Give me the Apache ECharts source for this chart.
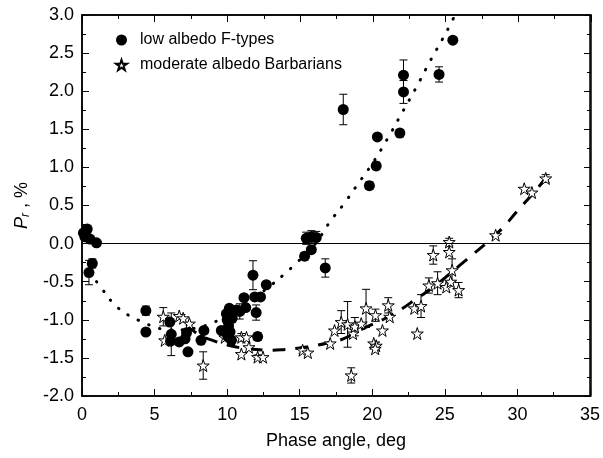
<!DOCTYPE html>
<html>
<head>
<meta charset="utf-8">
<script src="https://cdn.jsdelivr.net/npm/echarts@6/dist/echarts.min.js"></script>
<style>
  html, body { margin: 0; padding: 0; background: #fff; }
  #chart { width: 603px; height: 458px; }
</style>
</head>
<body>
<div id="chart"></div>
<script>
// Polarization vs phase angle: [phase angle (deg), P_r (%), error (0 = none)]
const fTypes = [
  [0.1, 0.14, 0], [0.36, 0.19, 0.05], [0.2, 0.09, 0], [0.55, 0.06, 0], [1.0, 0.01, 0],
  [0.48, -0.38, 0.16], [0.71, -0.26, 0.06],
  [4.4, -0.88, 0.06], [4.4, -1.16, 0],
  [6.05, -1.03, 0], [6.15, -1.19, 0.28], [6.1, -1.28, 0], [6.7, -1.29, 0],
  [7.3, -1.42, 0], [7.1, -1.25, 0], [7.2, -1.17, 0],
  [8.2, -1.27, 0], [8.4, -1.14, 0],
  [9.6, -1.14, 0], [9.95, -0.92, 0], [10.0, -1.0, 0], [10.1, -1.08, 0], [10.2, -1.16, 0],
  [10.05, -1.22, 0], [10.3, -1.27, 0], [10.35, -0.98, 0], [10.15, -0.85, 0],
  [10.64, -0.87, 0], [10.87, -0.89, 0.1], [11.28, -0.84, 0],
  [11.16, -0.71, 0], [11.9, -0.70, 0], [12.3, -0.70, 0],
  [11.78, -0.415, 0.19], [12.7, -0.54, 0],
  [12.0, -0.905, 0.1], [12.1, -1.22, 0.05],
  [15.34, -0.165, 0.05], [15.8, -0.08, 0], [15.45, 0.07, 0.08], [15.8, 0.09, 0.08], [16.14, 0.08, 0.08],
  [16.76, -0.32, 0.12],
  [18.0, 1.76, 0.2],
  [19.8, 0.76, 0.05], [20.27, 1.02, 0.05], [20.35, 1.40, 0],
  [21.9, 1.45, 0.05], [22.15, 1.99, 0.15], [22.15, 2.21, 0.2],
  [24.6, 2.22, 0.1], [25.55, 2.67, 0]
];

const barbarians = [
  [5.6, -0.96, 0.12], [5.7, -1.27, 0], [6.7, -0.95, 0], [6.97, -0.98, 0], [7.4, -1.05, 0],
  [8.35, -1.60, 0.18],
  [9.84, -1.23, 0], [10.98, -1.23, 0.05], [11.33, -1.23, 0], [11.5, -1.36, 0], [10.98, -1.45, 0],
  [12.1, -1.49, 0.03], [12.47, -1.49, 0],
  [15.2, -1.40, 0.04], [15.56, -1.43, 0],
  [17.1, -1.31, 0], [17.4, -1.14, 0], [17.86, -1.03, 0.15], [18.3, -1.06, 0.3],
  [18.67, -1.18, 0], [18.8, -1.09, 0.12], [19.24, -1.05, 0], [19.57, -0.85, 0.25],
  [20.22, -0.94, 0.08], [20.7, -1.14, 0],
  [20.1, -1.31, 0], [20.27, -1.34, 0], [20.2, -1.38, 0],
  [21.1, -0.81, 0.1], [21.2, -0.96, 0],
  [18.55, -1.73, 0.1],
  [22.9, -0.85, 0], [23.1, -1.18, 0],
  [23.36, -0.82, 0.15], [23.9, -0.55, 0.1], [24.5, -0.52, 0.15], [25.1, -0.57, 0],
  [25.4, -0.50, 0], [25.95, -0.61, 0.1], [25.5, -0.35, 0.15],
  [24.2, -0.15, 0.12], [25.3, 0.02, 0.05], [25.3, -0.11, 0],
  [28.5, 0.11, 0],
  [30.47, 0.72, 0], [31.0, 0.67, 0], [31.95, 0.855, 0.05]
];

// Fitted phase curves
const fTypesFit = [
  [1.0, -0.50], [1.4, -0.60], [2.2, -0.79], [3.2, -0.94], [4.2, -1.03], [5.1, -1.10],
  [6.0, -1.13], [7.0, -1.13], [8.0, -1.10], [9.0, -1.04], [10.0, -0.94], [11.0, -0.82],
  [12.0, -0.69], [13.0, -0.55], [13.85, -0.415], [14.8, -0.25], [16.0, -0.02],
  [17.1, 0.29], [18.0, 0.51], [19.0, 0.78], [20.0, 1.05], [21.0, 1.36], [22.0, 1.70],
  [23.0, 2.04], [24.0, 2.40], [25.0, 2.74], [25.6, 2.96]
];

const barbariansFit = [
  [7.2, -1.06], [8.0, -1.19], [9.0, -1.27], [10.0, -1.33], [11.0, -1.37], [12.0, -1.39],
  [13.0, -1.40], [14.0, -1.39], [15.0, -1.37], [16.0, -1.34], [17.0, -1.30], [18.0, -1.25],
  [19.0, -1.15], [20.0, -1.06], [21.0, -0.97], [22.0, -0.86], [23.0, -0.73], [24.0, -0.60],
  [25.0, -0.45], [26.0, -0.29], [27.0, -0.13], [28.0, 0.03], [29.0, 0.21], [30.0, 0.43],
  [31.0, 0.64], [32.0, 0.87]
];

const seriesNames = ['low albedo F-types', 'moderate albedo Barbarians'];
const xRange = [0, 35, 5];
const yRange = [-2, 3, 0.5];

const STAR = 'path://M50,2 L61,36 L97,36 L68,57 L79,92 L50,71 L21,92 L32,57 L3,36 L39,36 Z';
const FONT = 'Liberation Sans, Arial, sans-serif';
const GRID = { left: 82, right: 12, top: 15, bottom: 62 };

function errorBars(data) {
  return data.filter(d => d[2] > 0);
}

function renderErr(params, api) {
  const x = api.value(0), y = api.value(1), e = api.value(2);
  const top = api.coord([x, y + e]);
  const bot = api.coord([x, y - e]);
  const c = 4;
  const style = { stroke: '#000', lineWidth: 1 };
  return {
    type: 'group',
    children: [
      { type: 'line', shape: { x1: top[0], y1: top[1], x2: bot[0], y2: bot[1] }, style },
      { type: 'line', shape: { x1: top[0] - c, y1: top[1], x2: top[0] + c, y2: top[1] }, style },
      { type: 'line', shape: { x1: bot[0] - c, y1: bot[1], x2: bot[0] + c, y2: bot[1] }, style }
    ]
  };
}

function axisCommon() {
  return {
    axisLine: { show: true, onZero: false, lineStyle: { color: '#000', width: 1.5 } },
    axisTick: { show: true, inside: true, length: 7, lineStyle: { color: '#000', width: 1 } },
    minorTick: { show: true, splitNumber: 2, length: 4, lineStyle: { color: '#000', width: 1 } },
    splitLine: { show: false },
    minorSplitLine: { show: false }
  };
}

const chart = echarts.init(document.getElementById('chart'));
chart.setOption({
  animation: false,
  backgroundColor: '#fff',
  grid: [
    Object.assign({ show: true, borderColor: '#000', borderWidth: 1.5, backgroundColor: 'transparent' }, GRID),
    Object.assign({}, GRID)
  ],
  legend: {
    orient: 'vertical',
    left: 110,
    top: 27,
    itemWidth: 11,
    itemHeight: 11,
    itemGap: 9,
    textStyle: { fontFamily: FONT, fontSize: 16, color: '#000', padding: [0, 0, 0, 8] },
    data: seriesNames
  },
  xAxis: [
    Object.assign(axisCommon(), {
      gridIndex: 0, type: 'value', min: xRange[0], max: xRange[1], interval: xRange[2],
      position: 'bottom',
      name: 'Phase angle, deg', nameLocation: 'middle', nameGap: 36,
      nameTextStyle: { fontFamily: FONT, fontSize: 18, color: '#000' },
      axisLabel: { fontFamily: FONT, fontSize: 18, color: '#000', margin: 10 }
    }),
    Object.assign(axisCommon(), {
      gridIndex: 1, type: 'value', min: xRange[0], max: xRange[1], interval: xRange[2],
      position: 'top', axisLabel: { show: false }
    })
  ],
  yAxis: [
    Object.assign(axisCommon(), {
      gridIndex: 0, type: 'value', min: yRange[0], max: yRange[1], interval: yRange[2],
      position: 'left',
      name: '{i|P}{s|r}{n| , %}', nameLocation: 'middle', nameGap: 33, nameRotate: 90,
      nameTextStyle: {
        fontFamily: FONT, fontSize: 18, color: '#000',
        rich: {
          i: { fontFamily: FONT, fontSize: 18, fontStyle: 'italic', color: '#000' },
          s: { fontFamily: FONT, fontSize: 12, fontStyle: 'italic', color: '#000', verticalAlign: 'bottom', padding: [8, 0, 0, 0] },
          n: { fontFamily: FONT, fontSize: 18, color: '#000' }
        }
      },
      axisLabel: {
        fontFamily: FONT, fontSize: 18, color: '#000', margin: 8,
        formatter: v => v.toFixed(1)
      }
    }),
    Object.assign(axisCommon(), {
      gridIndex: 1, type: 'value', min: yRange[0], max: yRange[1], interval: yRange[2],
      position: 'right', axisLabel: { show: false }
    })
  ],
  series: [
    {
      type: 'line', data: fTypesFit, smooth: true, showSymbol: false, silent: true,
      lineStyle: { color: '#000', width: 3, type: [0.5, 11], cap: 'round' }, z: 1,
      markLine: {
        silent: true, symbol: 'none', label: { show: false },
        lineStyle: { color: '#000', width: 1.2, type: 'solid' },
        data: [{ yAxis: 0 }]
      }
    },
    {
      type: 'line', data: barbariansFit, smooth: true, showSymbol: false, silent: true,
      lineStyle: { color: '#000', width: 3, type: [13, 10] }, z: 1
    },
    {
      type: 'custom', data: errorBars(fTypes), renderItem: renderErr, z: 2, silent: true
    },
    {
      type: 'custom', data: errorBars(barbarians), renderItem: renderErr, z: 2, silent: true
    },
    {
      name: seriesNames[1], type: 'scatter', data: barbarians.map(d => [d[0], d[1]]),
      symbol: STAR, symbolSize: 12,
      itemStyle: { color: '#fff', borderColor: '#000', borderWidth: 1, opacity: 1 }, z: 3
    },
    {
      name: seriesNames[0], type: 'scatter', data: fTypes.map(d => [d[0], d[1]]),
      symbol: 'circle', symbolSize: 11,
      itemStyle: { color: '#000', opacity: 1 }, z: 4
    },
    {
      // keeps the mirrored top/right axes of the second grid active
      type: 'line', xAxisIndex: 1, yAxisIndex: 1, data: [], silent: true
    }
  ]
});
</script>
</body>
</html>
